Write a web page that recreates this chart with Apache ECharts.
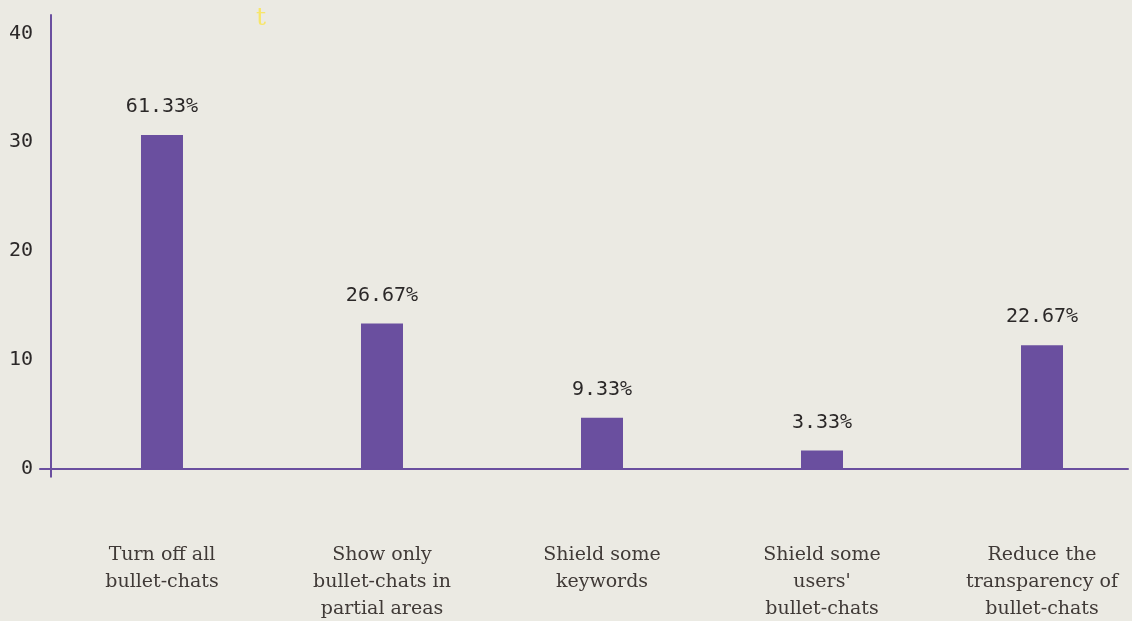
<!DOCTYPE html>
<html>
<head>
<meta charset="utf-8">
<script src="https://cdn.jsdelivr.net/npm/echarts@6/dist/echarts.min.js"></script>
<style>
  html, body { margin: 0; padding: 0; background: #ebeae3; }
  #chart { width: 1132px; height: 621px; }
</style>
</head>
<body>
<div id="chart"></div>
<script>
// Ways respondents reduce bullet-chat clutter (share of respondents, %)
const categories = [
  'Turn off all\nbullet-chats',
  'Show only\nbullet-chats in\npartial areas',
  'Shield some\nkeywords',
  "Shield some\nusers'\nbullet-chats",
  'Reduce the\ntransparency of\nbullet-chats'
];
const shares = [61.33, 26.67, 9.33, 3.33, 22.67];
// the vertical scale is labelled in half-percent units
const yTickValues = [0, 20, 40, 60, 80];
const yTickLabels = ['0', '10', '20', '30', '40'];

const purple = '#6a4f9f';
const monoFont = '"DejaVu Sans Mono", monospace';

const chart = echarts.init(document.getElementById('chart'));
chart.setOption({
  backgroundColor: '#ebeae3',
  animation: false,
  title: {
    text: 't',
    left: 256,
    top: 6,
    padding: 0,
    textStyle: { color: '#f7e66a', fontSize: 25, fontWeight: 'normal', fontFamily: '"DejaVu Serif", serif' }
  },
  grid: { left: 40, right: 4, top: 15, bottom: 144.3, outerBoundsMode: 'none', containLabel: false },
  xAxis: {
    type: 'value',
    min: -0.5545,
    max: 4.3909,
    splitLine: { show: false },
    axisLine: { show: true, onZero: true, lineStyle: { color: purple, width: 2 } },
    axisTick: { show: false },
    axisLabel: {
      customValues: [0, 1, 2, 3, 4],
      formatter: v => categories[Math.round(v)],
      margin: 65,
      color: '#403a37',
      fontSize: 19,
      lineHeight: 27,
      align: 'center',
      fontFamily: '"DejaVu Serif", serif'
    }
  },
  yAxis: {
    type: 'value',
    min: -1.5,
    max: 83.4,
    offset: -11,
    splitLine: { show: false },
    axisLine: { show: true, onZero: false, lineStyle: { color: purple, width: 2 } },
    axisTick: { show: false },
    axisLabel: {
      customValues: yTickValues,
      formatter: v => yTickLabels[yTickValues.indexOf(Math.round(v))],
      margin: 18,
      color: '#2b2828',
      fontSize: 20,
      fontFamily: monoFont
    }
  },
  series: [{
    type: 'bar',
    barWidth: 42,
    data: shares.map((s, i) => [i, s]),
    itemStyle: { color: purple },
    label: {
      show: true,
      position: 'top',
      distance: 18,
      formatter: p => p.value[1].toFixed(2) + '%',
      color: '#2b2828',
      fontSize: 20,
      fontFamily: monoFont
    }
  }]
});
</script>
</body>
</html>
